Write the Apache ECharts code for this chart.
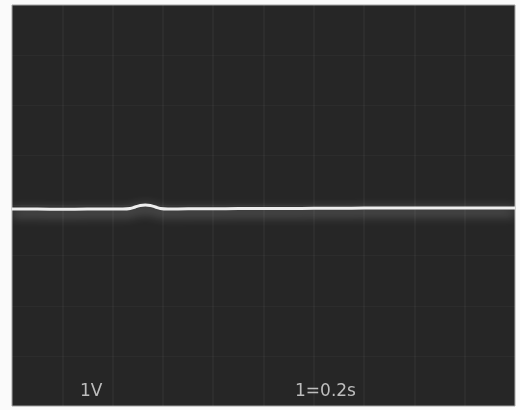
<!DOCTYPE html>
<html>
<head>
<meta charset="utf-8">
<script src="https://cdn.jsdelivr.net/npm/echarts@6/dist/echarts.min.js"></script>
<style>
html,body{margin:0;padding:0;background:#fafafa;}
#c{width:520px;height:410px;}
</style>
</head>
<body>
<div id="c"></div>
<script>
// Time (s) and trace voltage (V)
var timeS = [0, 0.1, 0.2, 0.3, 0.4, 0.44, 0.47, 0.49, 0.51, 0.53, 0.55, 0.57, 0.59, 0.62, 0.7, 0.8, 0.9, 1.0, 1.1, 1.2, 1.3, 1.4, 1.5, 1.6, 1.7, 1.8, 1.9, 2.0];
var volts = [-0.07, -0.07, -0.075, -0.07, -0.07, -0.07, -0.06, -0.03, 0.0, 0.01, 0.0, -0.03, -0.06, -0.07, -0.065, -0.065, -0.06, -0.06, -0.06, -0.055, -0.055, -0.05, -0.05, -0.05, -0.05, -0.05, -0.05, -0.05];
var voltLabel = '1V';
var timeLabel = '1=0.2s';

var chart = echarts.init(document.getElementById('c'));
var pts = timeS.map(function (t, i) { return [t, volts[i]]; });
chart.setOption({
  animation: false,
  backgroundColor: '#fafafa',
  grid: { left: 12, top: 5, width: 503, height: 401, show: true, backgroundColor: '#262626', borderColor: '#a0a0a0', borderWidth: 1 },
  xAxis: {
    type: 'value', min: 0, max: 2, interval: 0.2,
    axisLine: { show: false }, axisTick: { show: false }, axisLabel: { show: false },
    splitLine: { show: true, lineStyle: { color: 'rgba(255,255,255,0.05)', width: 1.5 } }
  },
  yAxis: {
    type: 'value', min: -4, max: 4, interval: 1,
    axisLine: { show: false }, axisTick: { show: false }, axisLabel: { show: false },
    splitLine: { show: true, lineStyle: { color: 'rgba(255,255,255,0.03)', width: 1 } }
  },
  series: [{
    type: 'line', data: pts, showSymbol: false, smooth: 0.4,
    lineStyle: { color: '#eeeeee', width: 3, shadowBlur: 12, shadowColor: 'rgba(255,255,255,0.6)', shadowOffsetY: 4 }
  }],
  graphic: [
    { type: 'text', left: 80, top: 383, style: { text: voltLabel, fill: '#bdbdbd', font: '17px "DejaVu Sans"' } },
    { type: 'text', left: 295, top: 383, style: { text: timeLabel, fill: '#bdbdbd', font: '17px "DejaVu Sans"' } }
  ]
});
</script>
</body>
</html>
